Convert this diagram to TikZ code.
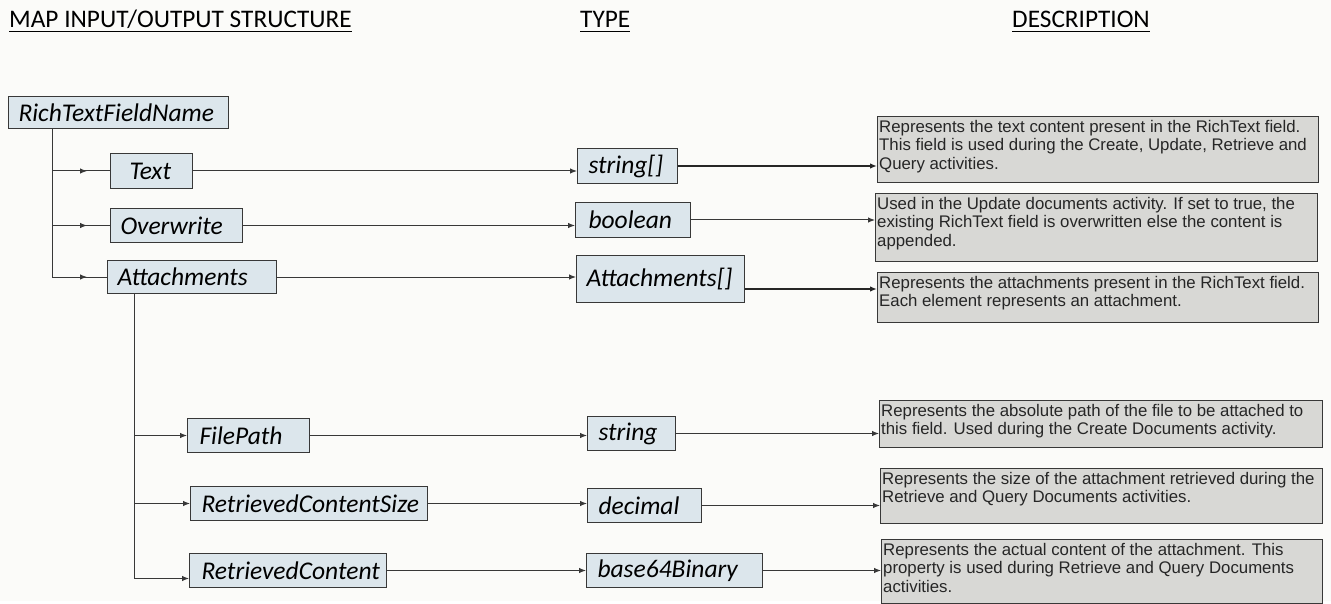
\documentclass[tikz,border=0pt]{standalone}
\usepackage{fontspec}
\setmainfont{Liberation Sans}
\newfontfamily\hdfont{Carlito}
\newfontfamily\labfont{Carlito}
\usetikzlibrary{arrows.meta,decorations.markings}
\definecolor{bg}{HTML}{FBFBF9}
\definecolor{boxfill}{HTML}{DCE6EC}
\definecolor{descfill}{HTML}{D8D8D5}
\definecolor{edge}{HTML}{383838}
\begin{document}
\begin{tikzpicture}[x=1pt,y=-1pt,
  hd/.style={anchor=base west, inner sep=0pt, font=\hdfont\fontsize{25.3}{27}\selectfont, text=black},
  lbl/.style={draw=edge, fill=boxfill, line width=1pt, anchor=north west, inner ysep=0pt, align=left,
              font=\labfont\itshape\fontsize{25.5}{27}\selectfont},
  descbox/.style={draw=edge, fill=descfill, line width=1pt, anchor=north west, inner sep=0pt},
  desctext/.style={anchor=north west, inner xsep=2pt, inner ysep=4pt, align=left,
              font=\fontsize{16.8}{18.6}\selectfont, text=black!85},
  line/.style={draw=edge, line width=1pt},
  conn/.style={draw=edge, line width=1pt, -{Latex[length=7pt,width=5.5pt]}},
  boldconn/.style={draw=black!85, line width=2pt, -{Latex[length=7pt,width=5.5pt]}},
  midarr/.style={draw=edge, line width=1pt, postaction={decorate},
     decoration={markings, mark=at position 35pt with {\arrow{Latex[length=7pt,width=5.5pt]}}}}
]
\path[fill=bg] (0,0) rectangle (1331,601);

% headers
\node[hd] (h1) at (9,28) {MAP INPUT/OUTPUT STRUCTURE};
\node[hd] (h2) at (580,28) {TYPE};
\node[hd] (h3) at (1012,28) {DESCRIPTION};
\foreach \h in {h1,h2,h3}{
  \draw[line width=1.6pt, black] ([yshift=-3.5pt]\h.base west) -- ([yshift=-3.5pt]\h.base east);
}

% structure boxes
\node[lbl, minimum height=32pt, text width=200pt, inner xsep=10pt] (rtf) at (8,96) {RichTextFieldName};
\node[lbl, minimum height=35pt, text width=44pt, inner xsep=19pt] (text) at (110,153) {Text};
\node[lbl, minimum height=34pt, text width=112pt, inner xsep=10pt] (over) at (110,208) {Overwrite};
\node[lbl, minimum height=33pt, text width=149pt, inner xsep=10pt] (att) at (107,260) {Attachments};
\node[lbl, minimum height=34pt, text width=98pt, inner xsep=12pt] (fp) at (187,418) {FilePath};
\node[lbl, minimum height=34pt, text width=215pt, inner xsep=11pt] (rcs) at (190,486) {RetrievedContentSize};
\node[lbl, minimum height=34pt, text width=173pt, inner xsep=12pt] (rc) at (189,553) {RetrievedContent};

% type boxes
\node[lbl, minimum height=35pt, text width=78pt, inner xsep=11pt] (strA) at (577,148) {string[]};
\node[lbl, minimum height=35pt, text width=89pt, inner xsep=13pt] (bool) at (575,202) {boolean};
\node[lbl, minimum height=47pt, text width=148pt, inner xsep=10pt] (attA) at (576,255) {Attachments[]};
\node[lbl, minimum height=34pt, text width=66pt, inner xsep=11pt] (str) at (587,416) {string};
\node[lbl, minimum height=34pt, text width=92pt, inner xsep=11pt] (dec) at (587,488) {decimal};
\node[lbl, minimum height=34pt, text width=154pt, inner xsep=11pt] (b64) at (586,553) {base64Binary};

% description boxes
\node[descbox, minimum width=441pt, minimum height=66pt] (d1) at (877,116) {};
\node[desctext] (d1t) at (d1.north west) {Represents the text content present in the RichText field.\\This field is used during the Create, Update, Retrieve and\\Query activities.};
\node[descbox, minimum width=442pt, minimum height=68pt] (d2) at (875,193) {};
\node[desctext] (d2t) at (d2.north west) {Used in the Update documents activity. If set to true, the\\existing RichText field is overwritten else the content is\\appended.};
\node[descbox, minimum width=441pt, minimum height=50pt] (d3) at (877,272) {};
\node[desctext] (d3t) at (d3.north west) {Represents the attachments present in the RichText field.\\Each element represents an attachment.};
\node[descbox, minimum width=443pt, minimum height=47pt] (d4) at (879,400) {};
\node[desctext] (d4t) at (d4.north west) {Represents the absolute path of the file to be attached to\\this field. Used during the Create Documents activity.};
\node[descbox, minimum width=442pt, minimum height=55pt] (d5) at (880,468) {};
\node[desctext] (d5t) at (d5.north west) {Represents the size of the attachment retrieved during the\\Retrieve and Query Documents activities.};
\node[descbox, minimum width=441pt, minimum height=64pt] (d6) at (881,539) {};
\node[desctext] (d6t) at (d6.north west) {Represents the actual content of the attachment. This\\property is used during Retrieve and Query Documents\\activities.};

% tree connectors (top)
\coordinate (tr) at (52,129);
\draw[line] (rtf.south -| tr) -- (tr |- att.west);
\draw[midarr] (tr |- text.west) -- (text.west);
\draw[midarr] (tr |- over.west) -- (over.west);
\draw[midarr] (tr |- att.west) -- (att.west);

% tree connectors (attachments)
\coordinate (tr2) at (134,293);
\coordinate (rcin) at ([yshift=-8pt]rc.west);
\draw[line] (att.south -| tr2) -- (tr2 |- rcin);
\draw[conn] (tr2 |- fp.west) -- (fp.west);
\draw[conn] (tr2 |- rcs.west) -- (rcs.west);
\draw[conn] (tr2 |- rcin) -- (rcin);

% structure -> type
\draw[conn] (text.east) -- (text.east -| strA.west);
\draw[conn] (over.east) -- (over.east -| bool.west);
\draw[conn] (att.east) -- (att.east -| attA.west);
\draw[conn] (fp.east) -- (fp.east -| str.west);
\draw[conn] (rcs.east) -- (rcs.east -| dec.west);
\draw[conn] (rc.east) -- (rc.east -| b64.west);

% type -> description
\draw[boldconn] (strA.east) -- (strA.east -| d1.west);
\draw[conn] (bool.east) -- (bool.east -| d2.west);
\draw[boldconn] ([yshift=-10pt]attA.east) -- ([yshift=-10pt]attA.east -| d3.west);
\draw[conn] (str.east) -- (str.east -| d4.west);
\draw[conn] (dec.east) -- (dec.east -| d5.west);
\draw[conn] (b64.east) -- (b64.east -| d6.west);
\end{tikzpicture}
\end{document}
